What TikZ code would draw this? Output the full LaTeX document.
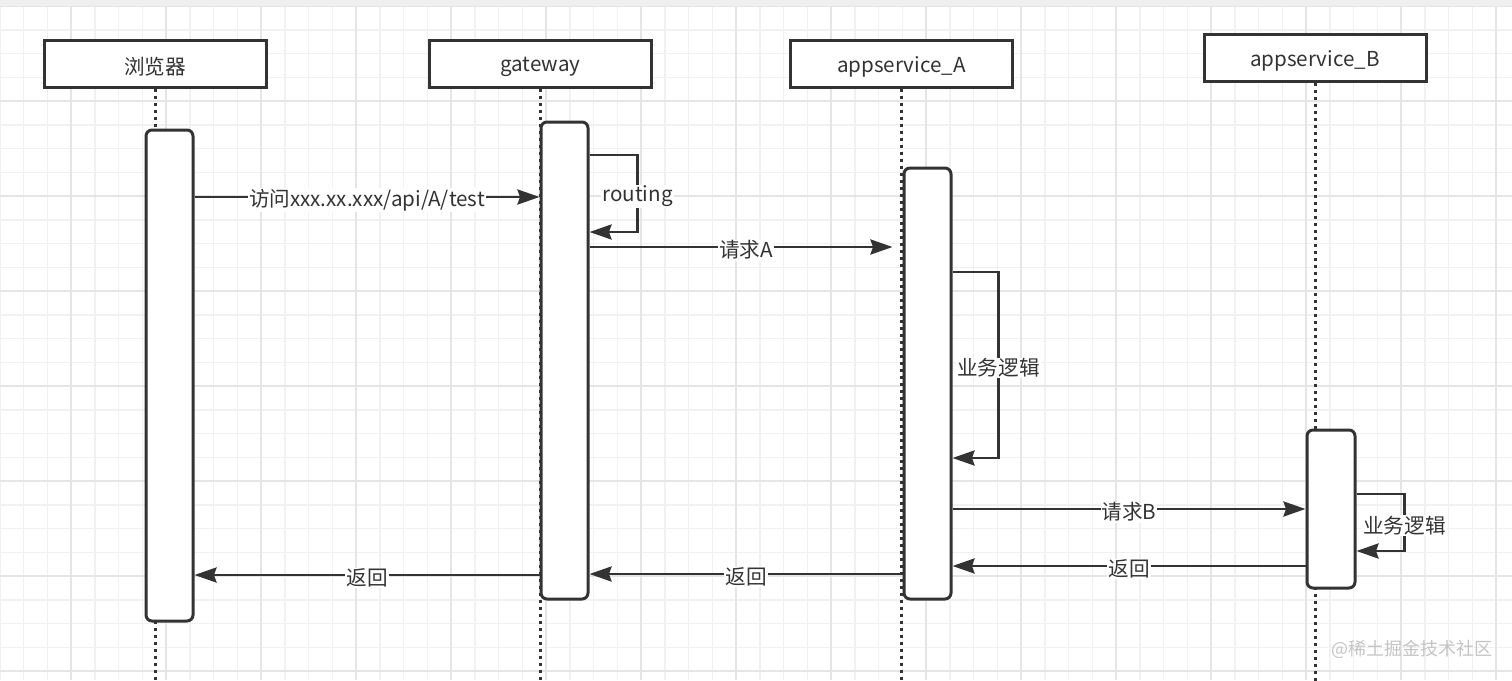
\documentclass[tikz,border=0pt]{standalone}
\usepackage{fontspec}
\setmainfont{Noto Sans CJK SC}
\usetikzlibrary{arrows.meta}
\definecolor{ink}{HTML}{333333}
\definecolor{gridminor}{HTML}{F1F1F1}
\definecolor{gridmajor}{HTML}{E5E5E5}
\definecolor{band}{HTML}{EFEFEF}
\definecolor{wm}{HTML}{C4C4C4}
\begin{document}
\begin{tikzpicture}[x=1pt,y=-1pt,
  header/.style={draw=ink,line width=3pt,fill=white,minimum width=222pt,minimum height=47pt,inner sep=0pt,font=\fontsize{20.6}{24}\selectfont,text=ink},
  htext/.style={inner sep=0pt,font=\fontsize{20.6}{24}\selectfont,text=ink},
  actbox/.style={draw=ink,line width=3pt,fill=white,rounded corners=6pt,inner sep=0pt},
  lifeline/.style={draw=ink,line width=3pt,dash pattern=on 3pt off 4pt},
  msg/.style={draw=ink,line width=2.8pt,-{Stealth[length=22pt,width=15pt,inset=2.5pt]}},
  lbl/.style={fill=white,inner sep=1pt,text=ink,yshift=-3pt,font=\fontsize{20.6}{24}\selectfont},
  gmin/.style={draw=gridminor,line width=1.5pt},
  gmaj/.style={draw=gridmajor,line width=1.6pt},
]
\useasboundingbox (0,0) rectangle (1512,680);
\fill[white] (0,0) rectangle (1512,680);
% grid
\foreach \i in {0,...,63} {\draw[gmin] ({-0.25+23.75*\i},6) -- ({-0.25+23.75*\i},680);}
\foreach \j in {0,...,28} {\draw[gmin] (0,{6+23.75*\j}) -- (1512,{6+23.75*\j});}
\foreach \i in {0,...,15} {\draw[gmaj] ({71+95*\i},6) -- ({71+95*\i},680);}
\foreach \j in {0,...,7} {\draw[gmaj] (0,{6+95*\j}) -- (1512,{6+95*\j});}
\fill[band] (0,0) rectangle (1512,6);

% headers
\node[header] (hbr) at (155,63.5) {};
\node[header] (hgw) at (540.5,63.5) {};
\node[header] (ha) at (901.5,63.5) {};
\node[header] (hb) at (1315,57.5) {};
\node[htext] (tbr) at ([yshift=-3pt]hbr.center) {浏览器};
\node[htext] (tgw) at ([yshift=-3pt]hgw.center) {gateway};
\node[htext] (ta) at ([yshift=-3pt]ha.center) {appservice\_A};
\node[htext] (tb) at ([yshift=-3pt]hb.center) {appservice\_B};

% lifelines
\coordinate (bot) at (0,682);
\draw[lifeline] (hbr.south) -- (hbr.south |- bot);
\draw[lifeline] (hgw.south) -- (hgw.south |- bot);
\draw[lifeline] (ha.south) -- (ha.south |- bot);
\draw[lifeline] (hb.south) -- (hb.south |- bot);

% activation boxes
\node[actbox,minimum width=47pt,minimum height=491pt] (abr) at (169.5,375.5) {};
\node[actbox,minimum width=47pt,minimum height=477pt] (agw) at (564.5,360.5) {};
\node[actbox,minimum width=47pt,minimum height=431pt] (aa) at (927.5,383.5) {};
\node[actbox,minimum width=48pt,minimum height=158pt] (ab) at (1331,509) {};

% message levels
\coordinate (y1) at (0,197);
\coordinate (y2) at (0,155);
\coordinate (y3) at (0,232);
\coordinate (y4) at (0,247);
\coordinate (y5) at (0,272);
\coordinate (y6) at (0,458);
\coordinate (y7) at (0,509);
\coordinate (y8) at (0,494);
\coordinate (y9) at (0,551);
\coordinate (y10) at (0,566);
\coordinate (y11) at (0,574);
\coordinate (y12) at (0,575);

% messages
\draw[msg] (abr.east |- y1) -- node[lbl]{访问xxx.xx.xxx/api/A/test} (agw.west |- y1);
\draw[msg] (agw.east |- y2) -- ++(48,0) -- node[lbl]{routing} ++(0,77) -- (agw.east |- y3);
\draw[msg,shorten >=10pt] (agw.east |- y4) -- node[lbl]{请求A} (aa.west |- y4);
\draw[msg] (aa.east |- y5) -- ++(46,0) -- node[lbl]{业务逻辑} ++(0,186) -- (aa.east |- y6);
\draw[msg] (aa.east |- y7) -- node[lbl]{请求B} (ab.west |- y7);
\draw[msg] (ab.east |- y8) -- ++(48,0) -- node[lbl]{业务逻辑} ++(0,57) -- (ab.east |- y9);
\draw[msg] (ab.west |- y10) -- node[lbl]{返回} (aa.east |- y10);
\draw[msg] (aa.west |- y11) -- node[lbl]{返回} (agw.east |- y11);
\draw[msg] (agw.west |- y12) -- node[lbl]{返回} (abr.east |- y12);

% watermark
\node[text=wm,font=\fontsize{18}{20}\selectfont,inner sep=0pt] (wmk) at (1412,649) {@稀土掘金技术社区};
\end{tikzpicture}
\end{document}
